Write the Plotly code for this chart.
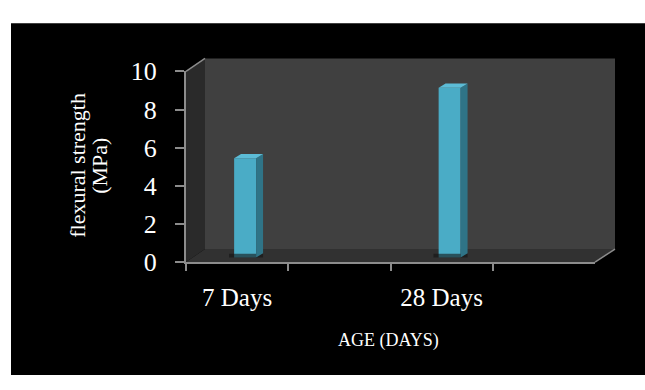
import plotly.graph_objects as go

# Category slots along the x axis (only two carry labels and data)
slots = ["7 Days", " ", "28 Days", "  "]
strength = [5.2, None, 8.9, None]          # flexural strength, MPa
y_ticks = [0, 2, 4, 6, 8, 10]

W, H = 645, 390
FONT = "Liberation Serif"
AXIS_GREY = "#8c8c8c"
BAR_FRONT = "#4aacc6"
BAR_SIDE = "#2f7487"
BAR_TOP = "#5cbcd6"


def fx(px):
    return px / W


def fy(py):
    return 1 - py / H


def ppath(points):
    return "M " + " L ".join(f"{fx(x):.5f},{fy(y):.5f}" for x, y in points) + " Z"


fig = go.Figure()

# Invisible trace so the front category axis knows its slots
fig.add_trace(go.Scatter(x=slots, y=[None] * len(slots), xaxis="x", yaxis="y",
                         mode="markers", showlegend=False, hoverinfo="skip"))

# Column depth (in data units of the column plane)
bar_w = 0.215
ddx = 0.068
ddy = 0.22

idx = [i for i, v in enumerate(strength) if v is not None]
vals = [strength[i] for i in idx]

# Soft shadows on the floor at the foot of each column
for c in idx:
    fig.add_trace(go.Scatter(
        x=[c - bar_w / 2 - 0.05, c + bar_w / 2 + ddx, c + bar_w / 2 + ddx, c - bar_w / 2 - 0.05],
        y=[-0.05, -0.05, 0.2, 0.2], xaxis="x2", yaxis="y2", mode="lines", fill="toself",
        fillcolor="rgba(20,20,20,0.6)", line=dict(width=0), showlegend=False, hoverinfo="skip"))

# Front faces of the columns
fig.add_trace(go.Bar(x=idx, y=vals, width=bar_w, xaxis="x2", yaxis="y2",
                     marker=dict(color=BAR_FRONT, line=dict(width=0)),
                     showlegend=False, hoverinfo="skip"))

# Side and top faces for the 3-D look
for c, v in zip(idx, vals):
    l, r = c - bar_w / 2, c + bar_w / 2
    fig.add_trace(go.Scatter(
        x=[r, r + ddx, r + ddx, r, r], y=[0, ddy, v + ddy, v, 0],
        xaxis="x2", yaxis="y2", mode="lines", fill="toself",
        fillcolor=BAR_SIDE, line=dict(width=0), showlegend=False, hoverinfo="skip"))
    fig.add_trace(go.Scatter(
        x=[l, l + ddx, r + ddx, r, l], y=[v, v + ddy, v + ddy, v, v],
        xaxis="x2", yaxis="y2", mode="lines", fill="toself",
        fillcolor=BAR_TOP, line=dict(width=0), showlegend=False, hoverinfo="skip"))

shapes = [
    # black chart area
    dict(type="rect", xref="paper", yref="paper", x0=fx(11), x1=1, y0=0, y1=fy(10),
         fillcolor="black", line=dict(width=0), layer="below"),
    # back wall
    dict(type="rect", xref="paper", yref="paper", x0=fx(205), x1=fx(615), y0=fy(254), y1=fy(48),
         fillcolor="#404040", line=dict(width=0), layer="below"),
    # side wall
    dict(type="path", xref="paper", yref="paper",
         path=ppath([(186, 268), (186, 62), (205, 48), (205, 254)]),
         fillcolor="#2a2a2a", line=dict(width=0), layer="below"),
    # floor
    dict(type="path", xref="paper", yref="paper",
         path=ppath([(186, 268), (595, 268), (615, 254), (205, 254)]),
         fillcolor="#313131", line=dict(width=0), layer="below"),
    # depth edges
    dict(type="line", xref="paper", yref="paper", x0=fx(186), y0=fy(62), x1=fx(205), y1=fy(48),
         line=dict(color=AXIS_GREY, width=1.5)),
    dict(type="line", xref="paper", yref="paper", x0=fx(595), y0=fy(268), x1=fx(615), y1=fy(254),
         line=dict(color=AXIS_GREY, width=1.5)),
]

annotations = [
    dict(text="flexural strength", xref="paper", yref="paper", x=fx(78), y=fy(164),
         textangle=-90, showarrow=False, font=dict(family=FONT, size=22, color="white"),
         xanchor="center", yanchor="middle"),
    dict(text="(MPa)", xref="paper", yref="paper", x=fx(100), y=fy(164),
         textangle=-90, showarrow=False, font=dict(family=FONT, size=22, color="white"),
         xanchor="center", yanchor="middle"),
    dict(text="AGE (DAYS)", xref="paper", yref="paper", x=fx(388), y=fy(353),
         showarrow=False, font=dict(family=FONT, size=18, color="white"),
         xanchor="center", yanchor="middle"),
]

fig.update_layout(
    width=W, height=H, autosize=False,
    margin=dict(l=0, r=0, t=0, b=0, pad=0),
    paper_bgcolor="white", plot_bgcolor="rgba(0,0,0,0)",
    shapes=shapes, annotations=annotations, showlegend=False,
    xaxis=dict(domain=[fx(186), fx(595)], type="category", range=[-0.5, 3.5],
               categoryorder="array", categoryarray=slots,
               showline=True, linecolor=AXIS_GREY, linewidth=2,
               ticks="outside", tickson="boundaries", ticklen=7, tickwidth=1.5,
               tickcolor=AXIS_GREY, showgrid=False, zeroline=False,
               tickfont=dict(family=FONT, size=25, color="white"),
               ticklabelstandoff=12, anchor="y", fixedrange=True),
    yaxis=dict(domain=[fy(268), fy(62)], range=[0, 10], tickvals=y_ticks,
               showline=True, linecolor=AXIS_GREY, linewidth=2,
               ticks="outside", ticklen=9, tickwidth=1.5, tickcolor=AXIS_GREY,
               showgrid=False, zeroline=False,
               tickfont=dict(family=FONT, size=26, color="white"),
               ticklabelstandoff=13, anchor="x", fixedrange=True),
    xaxis2=dict(domain=[fx(194), fx(603)], range=[-0.5, 3.5], visible=False,
                anchor="y2", fixedrange=True),
    yaxis2=dict(domain=[fy(263), fy(57)], range=[0, 10], visible=False,
                anchor="x2", fixedrange=True),
)

fig.write_html("out.html")
